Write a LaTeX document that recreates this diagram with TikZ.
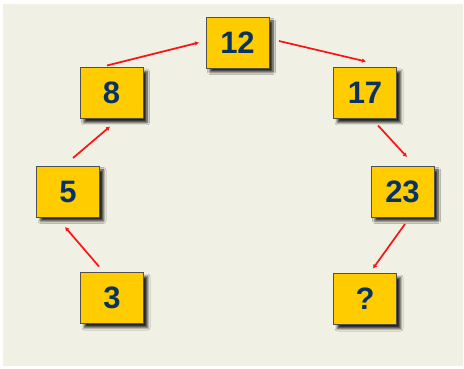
\documentclass[tikz,border=0pt]{standalone}
\usepackage{fontspec}
\setmainfont{Liberation Sans}
\usetikzlibrary{arrows.meta,shadows.blur}
\definecolor{bgc}{RGB}{240,240,228}
\definecolor{boxc}{RGB}{255,204,0}
\definecolor{numc}{RGB}{8,50,98}
\definecolor{edgec}{RGB}{80,80,80}
\definecolor{arrc}{RGB}{250,20,20}
\tikzset{
  numbox/.style={draw=edgec, line width=1pt, fill=boxc, minimum width=63pt, minimum height=51pt,
    inner sep=0pt, outer sep=0pt, text=numc, font=\fontsize{31}{31}\selectfont\bfseries,
    blur shadow={shadow xshift=4pt, shadow yshift=-4pt, shadow blur steps=5, shadow blur radius=2.5pt, shadow opacity=85}},
  conn/.style={draw=arrc, line width=1.7pt, -{Latex[length=4pt,width=4.8pt]}}
}
\begin{document}
\begin{tikzpicture}[x=1pt,y=1pt]
\useasboundingbox (0,0) rectangle (464,368);
\fill[bgc] (3,2) rectangle (463,364);
\node[numbox] (n12) at (237.5,325.5) {12};
\node[numbox] (n8) at (111.5,275) {8};
\node[numbox] (n17) at (365,275) {17};
\node[numbox] (n5) at (68,176.5) {5};
\node[numbox] (n23) at (402.5,176.5) {23};
\node[numbox] (n3) at (112,70) {3};
\node[numbox] (nq) at (365,69) {?};
\draw[conn] ([shift={(-4.5,2)}]n8.north) -- ([shift={(-7,0)}]n12.west);
\draw[conn] ([shift={(10,1.5)}]n12.east) -- ([shift={(1,6)}]n17.north);
\draw[conn] ([shift={(13,-7)}]n17.south) -- ([shift={(4.5,9)}]n23.north);
\draw[conn] ([shift={(2.5,-7)}]n23.south) -- ([shift={(8,5)}]nq.north);
\draw[conn] ([shift={(-13,6)}]n3.north) -- ([shift={(-3,-10)}]n5.south);
\draw[conn] ([shift={(5,8)}]n5.north) -- ([shift={(-1.5,-8)}]n8.south);
\end{tikzpicture}
\end{document}
